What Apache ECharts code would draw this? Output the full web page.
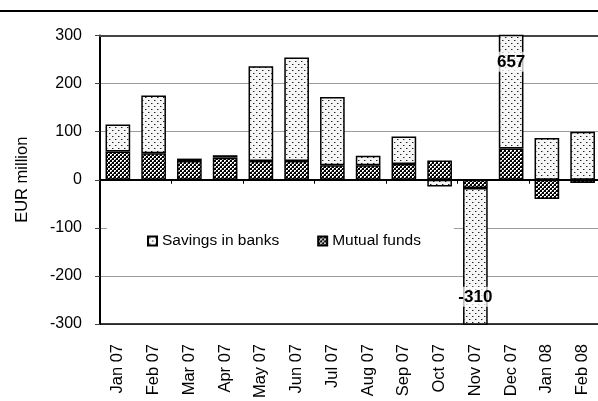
<!DOCTYPE html>
<html>
<head>
<meta charset="utf-8">
<script src="https://cdn.jsdelivr.net/npm/echarts@6/dist/echarts.min.js"></script>
<style>
  html, body { margin: 0; padding: 0; background: #fff; }
  #chart { width: 598px; height: 401px; }
</style>
</head>
<body>
<div id="chart"></div>
<script>
// Monthly flows, EUR million
const months = ['Jan 07', 'Feb 07', 'Mar 07', 'Apr 07', 'May 07', 'Jun 07', 'Jul 07',
                'Aug 07', 'Sep 07', 'Oct 07', 'Nov 07', 'Dec 07', 'Jan 08', 'Feb 08'];
const mutualFunds    = [59, 55, 39, 46, 39, 39, 30, 30, 33, 40, -17, 65, -40, -7];
const savingsInBanks = [56, 120, 5, 5, 197, 215, 142, 20, 57, -14, -310, 657, 87, 100];
const yMin = -300;
const yMax = 300;
const yStep = 100;

const FONT = '"Liberation Sans", Arial, sans-serif';

// Small repeating fills for the two series
function makeTile(w, h, draw) {
  const c = document.createElement('canvas');
  c.width = w; c.height = h;
  draw(c.getContext('2d'));
  return c;
}
const dottedTile = makeTile(6, 6, g => {
  g.fillStyle = '#f6f6f6'; g.fillRect(0, 0, 6, 6);
  g.fillStyle = '#222';
  g.fillRect(1, 1, 1, 1);
  g.fillRect(4, 4, 1, 1);
  g.fillStyle = '#9a9a9a';
  g.fillRect(2, 1, 1, 1);
  g.fillRect(5, 4, 1, 1);
});
const checkerTile = makeTile(4, 4, g => {
  g.fillStyle = '#000'; g.fillRect(0, 0, 4, 4);
  g.fillStyle = '#fff';
  g.fillRect(0, 0, 2, 2);
  g.fillRect(2, 2, 2, 2);
  g.fillStyle = '#666';
  g.fillRect(1, 1, 1, 1);
  g.fillRect(3, 3, 1, 1);
});

// Bars running past the axis range carry their value as a label
const savingsData = savingsInBanks.map(v => {
  if (v > yMax || v < yMin) {
    return {
      value: v,
      label: {
        show: true,
        position: v > 0 ? 'insideTop' : 'insideBottom',
        distance: v > 0 ? 17 : 18
      }
    };
  }
  return v;
});

const barLabel = {
  show: false,
  color: '#000',
  fontFamily: FONT,
  fontWeight: 'bold',
  fontSize: 17,
  backgroundColor: 'rgba(255,255,255,0.72)',
  padding: [2, 0, 1, 0]
};

const chart = echarts.init(document.getElementById('chart'), null, { renderer: 'canvas' });

chart.setOption({
  animation: false,
  backgroundColor: '#fff',
  textStyle: { fontFamily: FONT, color: '#000' },
  grid: {
    left: 100, right: -2.5, top: 35.5, bottom: 77,
    outerBoundsMode: 'none', containLabel: false
  },
  graphic: [{
    type: 'line',
    shape: { x1: 0, y1: 11, x2: 598, y2: 11 },
    style: { stroke: '#000', lineWidth: 2 },
    silent: true
  }],
  legend: {
    data: ['Savings in banks', 'Mutual funds'],
    left: 107, top: 223,
    icon: 'rect',
    itemWidth: 9, itemHeight: 9, itemGap: 38,
    padding: [10, 33, 10, 40],
    backgroundColor: '#fff',
    textStyle: { fontFamily: FONT, fontSize: 15.5, color: '#000' }
  },
  xAxis: [
    {
      // category axis sitting on the zero line, ticks only
      type: 'category', data: months, position: 'bottom',
      axisLine: { onZero: true, lineStyle: { color: '#000', width: 2 } },
      axisTick: { show: true, length: 4, lineStyle: { color: '#000', width: 1 } },
      axisLabel: { show: false },
      splitLine: { show: false }
    },
    {
      // month labels along the bottom edge
      type: 'category', data: months, position: 'bottom',
      axisLine: { onZero: false, lineStyle: { color: '#000', width: 1.5 } },
      axisTick: { show: false },
      axisLabel: {
        interval: 0, rotate: 90, margin: 20,
        fontFamily: FONT, fontSize: 16.5, color: '#000'
      },
      splitLine: { show: false }
    },
    {
      // top frame edge
      type: 'category', data: months, position: 'top',
      axisLine: { onZero: false, lineStyle: { color: '#444', width: 2 } },
      axisTick: { show: false },
      axisLabel: { show: false },
      splitLine: { show: false }
    }
  ],
  yAxis: {
    type: 'value', min: yMin, max: yMax, interval: yStep,
    name: 'EUR million', nameLocation: 'middle', nameGap: 69,
    nameTextStyle: { fontFamily: FONT, fontSize: 16.5, color: '#000' },
    axisLine: { show: true, lineStyle: { color: '#000', width: 2 } },
    axisTick: { show: true, length: 5, lineStyle: { color: '#444', width: 1 } },
    axisLabel: { margin: 18, fontFamily: FONT, fontSize: 16, color: '#000' },
    splitLine: { show: true, lineStyle: { color: '#9c9c9c', width: 1 } }
  },
  series: [
    {
      name: 'Mutual funds', type: 'bar', stack: 'flows', xAxisIndex: 0,
      data: mutualFunds, barWidth: '69%',
      itemStyle: {
        color: { image: checkerTile, repeat: 'repeat' },
        borderColor: '#000', borderWidth: 1.5
      },
      label: barLabel
    },
    {
      name: 'Savings in banks', type: 'bar', stack: 'flows', xAxisIndex: 0,
      data: savingsData, barWidth: '69%',
      itemStyle: {
        color: { image: dottedTile, repeat: 'repeat' },
        borderColor: '#000', borderWidth: 1.5
      },
      label: barLabel
    }
  ]
});
</script>
</body>
</html>
